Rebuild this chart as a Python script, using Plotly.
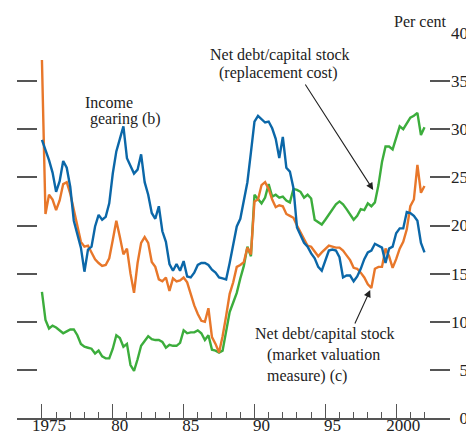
import plotly.graph_objects as go

# quarterly observations, 1975 Q1 to 2002 Q1
quarters = [1975 + q / 4 for q in range(109)]

income_gearing = [
    28.9, 27.9, 26.8, 25.5, 23.5, 24.6, 26.7, 26.0, 24.0, 20.5,
    19.1, 17.7, 15.2, 17.5, 17.8, 19.9, 21.1, 20.6, 20.9, 22.3,
    25.4, 27.7, 29.0, 30.3, 27.0, 26.2, 25.4, 25.8, 27.4, 24.5,
    23.2, 21.3, 20.7, 22.0, 19.4, 18.3, 16.0, 15.3, 16.0, 15.3,
    16.3, 14.7, 14.6, 15.1, 15.9, 16.1, 16.1, 15.9, 15.4, 15.1,
    14.6, 14.5, 14.4, 16.1, 18.2, 19.9, 20.7, 22.6, 24.5, 27.6,
    30.8, 31.4, 31.1, 30.7, 30.8, 30.1, 29.0, 27.0, 29.2, 26.0,
    25.6, 23.9, 19.8, 19.0, 18.2, 17.8, 17.1, 16.6, 15.7, 15.3,
    16.4, 17.4, 17.5, 17.4, 16.7, 14.6, 14.8, 14.8, 14.2, 14.7,
    15.5, 16.5, 17.2, 17.4, 18.1, 17.9, 17.7, 16.1, 17.6, 17.8,
    19.2, 19.7, 19.7, 21.4, 21.3, 21.0, 20.5, 18.2, 17.2,
]

market_valuation = [
    37.2, 21.2, 23.2, 22.7, 21.6, 22.6, 24.3, 24.5, 23.3, 21.6,
    20.2, 18.3, 17.8, 17.9, 17.2, 16.5, 16.1, 15.8, 15.9, 16.6,
    18.5, 20.5, 18.8, 17.0, 17.6, 15.0, 13.0, 16.1, 18.2, 18.8,
    18.2, 16.2, 15.7, 14.4, 14.2, 14.6, 13.2, 14.5, 14.2, 14.3,
    14.6, 14.1, 12.9, 11.7, 10.8, 10.1, 10.0, 11.4, 8.4, 7.7,
    6.8, 8.5, 10.6, 12.9, 14.1, 15.7, 15.9, 16.2, 17.7, 17.0,
    22.5, 22.7, 24.2, 24.5, 23.8, 22.7, 21.9, 22.1, 22.0, 21.2,
    21.0, 20.8, 20.0, 19.3, 18.5, 17.9, 17.8, 17.3, 16.8, 17.2,
    17.6, 17.9, 17.8, 17.7, 17.7, 17.4, 16.9, 16.4, 15.6, 15.5,
    15.1, 14.6, 13.9, 13.5, 15.5, 15.7, 15.7, 17.6, 16.8, 15.6,
    16.5, 17.6, 18.3, 19.6, 22.0, 22.7, 26.3, 23.4, 24.1,
]

replacement_cost = [
    13.1, 10.2, 9.3, 9.6, 9.4, 9.1, 8.8, 9.0, 9.2, 9.2,
    8.6, 7.7, 7.4, 7.3, 7.2, 6.7, 7.0, 6.4, 6.2, 6.2,
    7.2, 8.6, 8.3, 7.4, 7.7, 5.5, 4.9, 6.1, 7.5, 8.0,
    8.5, 8.2, 8.1, 8.1, 7.9, 7.3, 7.6, 7.5, 7.5, 7.8,
    9.1, 8.8, 8.9, 8.9, 9.1, 8.8, 8.1, 8.6, 7.1, 7.0,
    6.8, 7.0, 9.0, 11.0, 12.0, 13.0, 14.5, 15.8, 17.8, 16.8,
    23.2, 22.8, 22.3, 22.9, 24.3, 23.0, 23.2, 22.9, 23.0, 22.6,
    22.4, 23.8, 23.7, 23.5, 22.9, 23.2, 22.8, 20.6, 20.3, 20.1,
    20.6, 21.1, 21.6, 22.2, 22.5, 22.2, 21.7, 21.1, 20.6, 21.0,
    21.7, 21.6, 22.3, 22.0, 22.4, 24.2, 26.6, 28.2, 28.2, 27.9,
    29.0, 30.3, 30.0, 30.6, 31.2, 31.4, 31.7, 29.4, 30.2,
]

year_ticks = [1975, 1980, 1985, 1990, 1995, 2000]
year_labels = ["1975", "80", "85", "90", "95", "2000"]
minor_years = [y for y in range(1976, 2003) if y % 5]
pct_ticks = [0, 5, 10, 15, 20, 25, 30, 35, 40]
pct_labels = ["\u20070", "\u20075", "10", "15", "20", "25", "30", "35", "40"]

BLUE = "#0b67a8"
ORANGE = "#e8772a"
GREEN = "#3cad3c"
AXIS = "#555555"
TEXT = "#222222"
SERIF = "Liberation Serif, Times New Roman, serif"
X_RANGE = [1973.24, 2003.8]

fig = go.Figure()
for vals, col in [(replacement_cost, GREEN), (market_valuation, ORANGE), (income_gearing, BLUE)]:
    fig.add_trace(go.Scatter(x=quarters, y=vals, mode="lines",
                             line=dict(color=col, width=2.4), showlegend=False))
# empty trace so the label axis gets drawn
fig.add_trace(go.Scatter(x=[], y=[], xaxis="x2", yaxis="y", showlegend=False, hoverinfo="skip"))

# tick marks sit on year starts, labels are centred on the year
fig.update_xaxes(
    range=X_RANGE, automargin=False,
    tickvals=year_ticks, showticklabels=False,
    ticks="inside", ticklen=14, tickwidth=1.2, tickcolor=AXIS,
    minor=dict(tickvals=minor_years, ticks="inside", ticklen=6, tickwidth=1, tickcolor=AXIS),
    showline=True, linecolor=AXIS, linewidth=1.5,
    showgrid=False, zeroline=False,
)
fig.update_layout(xaxis2=dict(
    overlaying="x", anchor="y", side="bottom", range=X_RANGE, automargin=False,
    tickvals=[y + 0.5 for y in year_ticks], ticktext=year_labels, ticks="",
    showline=False, showgrid=False, zeroline=False, ticklabelstandoff=-5,
    tickfont=dict(family=SERIF, size=17, color=TEXT),
))
fig.update_yaxes(
    range=[0, 40], side="right", automargin=False,
    tickvals=pct_ticks, ticktext=pct_labels,
    ticks="inside", ticklen=20, tickwidth=1.5, tickcolor=AXIS, mirror="ticks",
    showline=False, showgrid=False, zeroline=False,
    tickfont=dict(family=SERIF, size=17, color=TEXT),
)

ann_font = dict(family=SERIF, size=16, color=TEXT)
labels = [
    # text, x, y, xanchor
    ("Income", 1977.89, 32.73, "left"),
    ("gearing (b)", 1978.24, 31.06, "left"),
    ("Net debt/capital stock", 1991.83, 37.71, "center"),
    ("(replacement cost)", 1991.69, 35.84, "center"),
]
for txt, x, y, anchor in labels:
    fig.add_annotation(x=x, y=y, text=txt, showarrow=False, xanchor=anchor, font=ann_font)
fig.add_annotation(x=1989.93, y=6.55,
                   text="Net debt/capital stock<br>\u00a0\u00a0\u00a0(market valuation<br>\u00a0\u00a0\u00a0measure) (c)",
                   showarrow=False, xanchor="left", align="left", font=ann_font)
fig.add_annotation(x=0.998, y=1.029, xref="paper", yref="paper", text="Per cent",
                   showarrow=False, xanchor="right", yanchor="middle", font=ann_font)
fig.add_annotation(x=1998.38, y=23.7, ax=1993.52, ay=34.8, axref="x", ayref="y",
                   text="", showarrow=True, arrowhead=2, arrowsize=1.3, arrowwidth=1.1,
                   arrowcolor="#222222")
fig.add_annotation(x=1998.17, y=13.3, ax=1997.04, ay=9.66, axref="x", ayref="y",
                   text="", showarrow=True, arrowhead=2, arrowsize=1.3, arrowwidth=1.1,
                   arrowcolor="#222222")

# the page adds an 8px body margin, so the figure is drawn 8px smaller and offset
fig.update_layout(
    width=466, height=428,
    margin=dict(l=9, r=24, t=25, b=18),
    paper_bgcolor="white", plot_bgcolor="white",
    font=dict(family=SERIF, color=TEXT),
)

fig.write_html("out.html")
